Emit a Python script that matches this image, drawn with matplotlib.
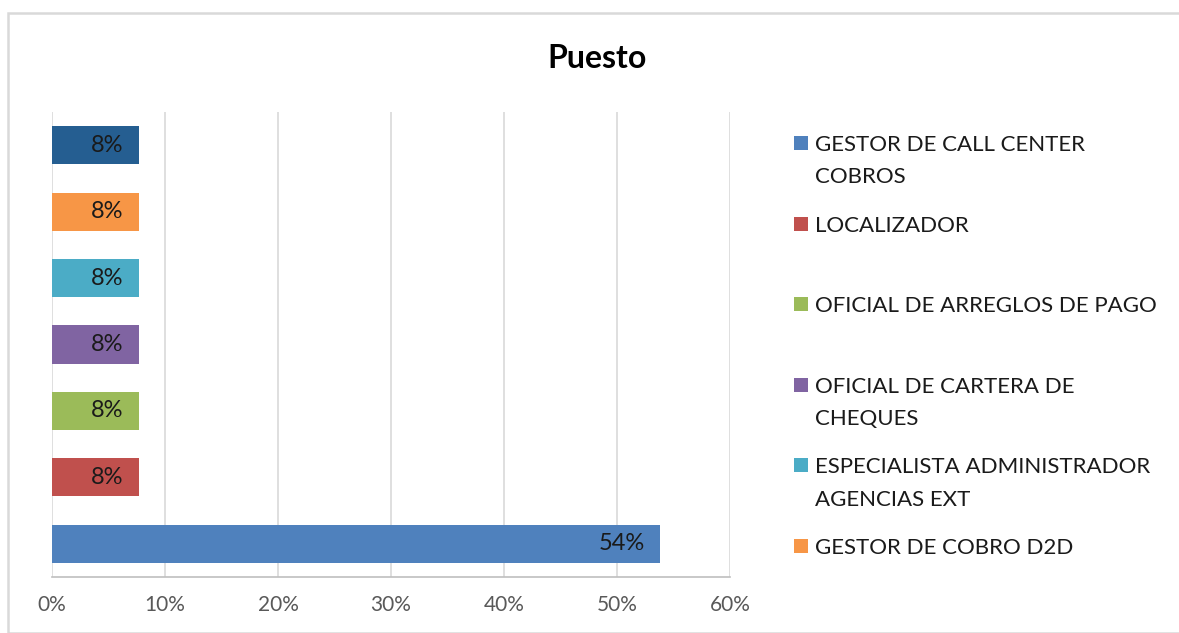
import matplotlib
matplotlib.use("Agg")
import matplotlib.pyplot as plt
from matplotlib.patches import Rectangle
from matplotlib.ticker import FuncFormatter, MultipleLocator

plt.rcParams['font.family'] = ['Lato', 'DejaVu Sans']

# Number of people by position (bottom to top)
categories = [
    "GESTOR DE CALL CENTER COBROS",
    "LOCALIZADOR",
    "OFICIAL DE ARREGLOS DE PAGO",
    "OFICIAL DE CARTERA DE CHEQUES",
    "ESPECIALISTA ADMINISTRADOR AGENCIAS EXT",
    "GESTOR DE COBRO D2D",
    "OTRO",
]
counts = [7, 1, 1, 1, 1, 1, 1]
legend_labels = [
    "GESTOR DE CALL CENTER\nCOBROS",
    "LOCALIZADOR",
    "OFICIAL DE ARREGLOS DE PAGO",
    "OFICIAL DE CARTERA DE\nCHEQUES",
    "ESPECIALISTA ADMINISTRADOR\nAGENCIAS EXT",
    "GESTOR DE COBRO D2D",
]
colors = ["#4F81BD", "#C0504D", "#9BBB59", "#8064A2", "#4BACC6", "#F79646", "#255E91"]

total = sum(counts)
shares = [c / total for c in counts]

W, H = 1179, 633
fig = plt.figure(figsize=(W / 100, H / 100), dpi=100)
fig.patch.set_facecolor("white")

# outer chart border
fig.add_artist(Rectangle((8 / W, 0), 1.2, (H - 13) / H, transform=fig.transFigure,
                         fill=False, edgecolor="#D9D9D9", linewidth=1.8))

ax = fig.add_axes([52 / W, (H - 577) / H, (730 - 52) / W, (577 - 112) / H])
ypos = list(range(len(categories)))
bars = ax.barh(ypos, shares, height=0.575, color=colors, edgecolor="none", zorder=3)

for b, s in zip(bars, shares):
    ax.annotate(f"{s:.0%}", xy=(b.get_width(), b.get_y() + b.get_height() / 2),
                xytext=(-11, 0), textcoords="offset points", ha="right", va="center",
                fontsize=17, color="#1a1a1a", zorder=4)

ax.set_xlim(0, 0.6)
ax.set_ylim(-0.5, len(categories) - 0.5)
ax.xaxis.set_major_locator(MultipleLocator(0.1))
ax.xaxis.set_major_formatter(FuncFormatter(lambda v, p: f"{v:.0%}"))
ax.set_yticks([])
ax.grid(axis="x", color="#D9D9D9", linewidth=1.2, zorder=0)
for side in ["top", "right", "left"]:
    ax.spines[side].set_visible(False)
ax.spines["bottom"].set_color("#BFBFBF")
ax.spines["bottom"].set_linewidth(1.2)
ax.tick_params(axis="x", length=0, pad=13, labelsize=15, labelcolor="#595959")

fig.text(597 / W, 1 - 58 / H, "Puesto", ha="center", va="center",
         fontsize=23, fontweight="bold", color="#000000")

# legend, one slot per entry with text aligned to the swatch
slot_top = 143
slot_step = 80.6
for i, (lab, col) in enumerate(zip(legend_labels, colors)):
    yc = slot_top + i * slot_step
    fig.add_artist(Rectangle((794 / W, 1 - (yc + 7) / H), 14 / W, 14 / H,
                             transform=fig.transFigure, facecolor=col, edgecolor="none"))
    fig.text(815 / W, 1 - (yc - 8) / H, lab, ha="left", va="top",
             fontsize=16, color="#1a1a1a", linespacing=1.78)

fig.savefig("out.png", dpi=100, facecolor="white")
